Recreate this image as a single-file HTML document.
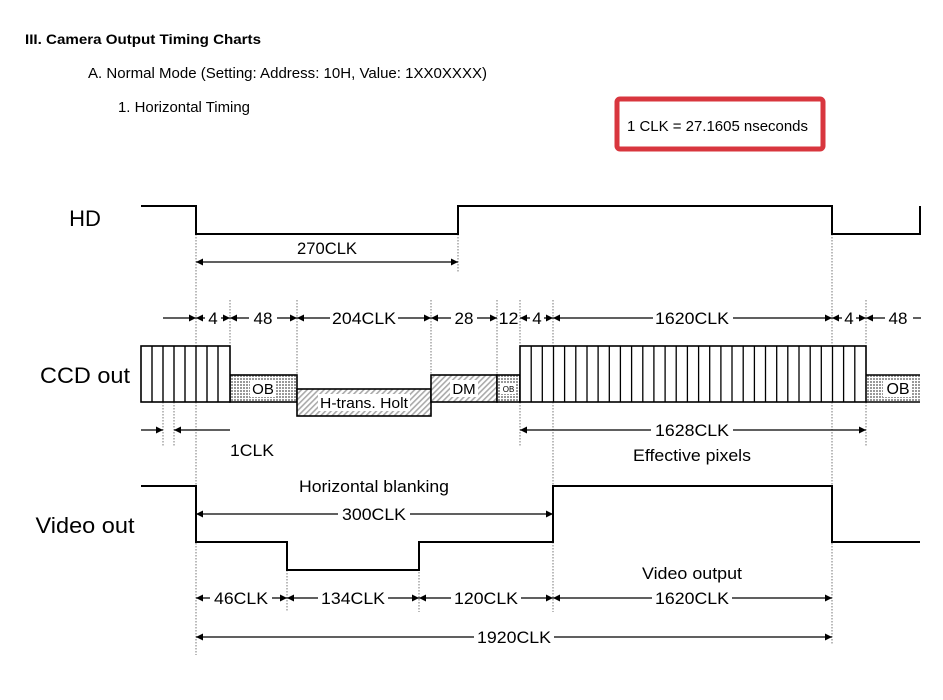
<!DOCTYPE html>
<html><head><meta charset="utf-8"><style>
body{margin:0;background:#fff;}
svg{display:block;font-family:"Liberation Sans",Arial,sans-serif;}
</style></head><body>
<svg width="943" height="700" viewBox="0 0 943 700" xmlns="http://www.w3.org/2000/svg">
<defs>
<marker id="ae" viewBox="0 0 10 10" refX="10" refY="5" markerWidth="9" markerHeight="7" markerUnits="userSpaceOnUse" orient="auto"><path d="M0,0L10,5L0,10z" fill="#000"/></marker>
<marker id="as" viewBox="0 0 10 10" refX="0" refY="5" markerWidth="9" markerHeight="7" markerUnits="userSpaceOnUse" orient="auto"><path d="M10,0L0,5L10,10z" fill="#000"/></marker>
<pattern id="dot" width="3" height="3" patternUnits="userSpaceOnUse"><rect width="3" height="3" fill="#fff"/><rect width="2" height="2" fill="#999"/></pattern>
<pattern id="hat" width="4" height="4" patternUnits="userSpaceOnUse" patternTransform="rotate(45)"><rect width="4" height="4" fill="#fff"/><rect width="1.6" height="4" fill="#aaa"/></pattern>
</defs>
<rect width="943" height="700" fill="#fff"/>
<text x="25" y="44" font-size="14" font-weight="bold" textLength="236" lengthAdjust="spacingAndGlyphs">III. Camera Output Timing Charts</text>
<text x="88" y="78" font-size="15" textLength="399" lengthAdjust="spacingAndGlyphs">A. Normal Mode (Setting: Address: 10H, Value: 1XX0XXXX)</text>
<text x="118" y="112" font-size="15" textLength="132" lengthAdjust="spacingAndGlyphs">1. Horizontal Timing</text>
<rect x="617" y="99" width="206" height="50" rx="3" fill="#fff" stroke="#d8363e" stroke-width="5"/>
<text x="627" y="131" font-size="15" textLength="181" lengthAdjust="spacingAndGlyphs">1 CLK = 27.1605 nseconds</text>

<text x="85" y="226" font-size="22" text-anchor="middle">HD</text>
<text x="85" y="383" font-size="22" text-anchor="middle" textLength="90" lengthAdjust="spacingAndGlyphs">CCD out</text>
<text x="85" y="533" font-size="22" text-anchor="middle" textLength="99" lengthAdjust="spacingAndGlyphs">Video out</text>

<g stroke="#777" stroke-width="1" stroke-dasharray="1.5,1.5" fill="none">
<line x1="196" y1="234" x2="196" y2="655"/>
<line x1="458" y1="234" x2="458" y2="272"/>
<line x1="832" y1="234" x2="832" y2="645"/>
<line x1="230" y1="300" x2="230" y2="346"/>
<line x1="297" y1="300" x2="297" y2="375"/>
<line x1="431" y1="300" x2="431" y2="375"/>
<line x1="497" y1="300" x2="497" y2="375"/>
<line x1="520" y1="300" x2="520" y2="446"/>
<line x1="553" y1="300" x2="553" y2="486"/>
<line x1="866" y1="300" x2="866" y2="446"/>
<line x1="163" y1="402" x2="163" y2="446"/>
<line x1="174" y1="402" x2="174" y2="446"/>
<line x1="287" y1="570" x2="287" y2="612"/>
<line x1="419" y1="542" x2="419" y2="612"/>
<line x1="553" y1="542" x2="553" y2="612"/>
</g>

<g stroke="#000" stroke-width="2" fill="none">
<polyline points="141,206 196,206 196,234 458,234 458,206 832,206 832,234 920,234 920,206"/>
<polyline points="141,486 196,486 196,542 287,542 287,570 419,570 419,542 553,542 553,486 832,486 832,542 920,542"/>
</g>

<g stroke="#000" stroke-width="1.6">
<rect x="230" y="375" width="67" height="27" fill="url(#dot)"/>
<rect x="297" y="389" width="134" height="27" fill="url(#hat)"/>
<rect x="431" y="375" width="66" height="27" fill="url(#hat)"/>
<rect x="497" y="375" width="23" height="27" fill="url(#dot)"/>
<rect x="866" y="375" width="54" height="27" fill="url(#dot)" stroke-width="0"/>
<line x1="866" y1="375" x2="920" y2="375"/>
<line x1="866" y1="402" x2="920" y2="402"/>
<rect x="141" y="346" width="89" height="56" fill="#fff"/>
<rect x="520" y="346" width="346" height="56" fill="#fff"/>
</g>
<g stroke="#000" stroke-width="1.4">
<line x1="152" y1="346" x2="152" y2="402"/><line x1="163" y1="346" x2="163" y2="402"/><line x1="174" y1="346" x2="174" y2="402"/><line x1="185" y1="346" x2="185" y2="402"/><line x1="196" y1="346" x2="196" y2="402"/><line x1="207" y1="346" x2="207" y2="402"/><line x1="218" y1="346" x2="218" y2="402"/>
</g>
<rect x="250" y="380" width="26" height="17" fill="#fff"/>
<text x="263" y="394" font-size="15" text-anchor="middle">OB</text>
<rect x="318" y="394" width="92" height="17" fill="#fff"/>
<text x="364" y="408" font-size="15" text-anchor="middle" textLength="88" lengthAdjust="spacingAndGlyphs">H-trans. Holt</text>
<rect x="450" y="380" width="28" height="17" fill="#fff"/>
<text x="464" y="394" font-size="15" text-anchor="middle">DM</text>
<rect x="501" y="383" width="15" height="11" fill="#fff"/>
<text x="508.5" y="392" font-size="8" text-anchor="middle">OB</text>
<rect x="883" y="380" width="28" height="17" fill="#fff"/>
<text x="898" y="394" font-size="16" text-anchor="middle">OB</text>

<g stroke="#000" stroke-width="1.2" fill="none">
<line x1="196" y1="262" x2="458" y2="262" marker-start="url(#as)" marker-end="url(#ae)"/>
<line x1="163" y1="318" x2="196" y2="318" marker-end="url(#ae)"/>
<line x1="196" y1="318" x2="230" y2="318" marker-start="url(#as)" marker-end="url(#ae)"/>
<line x1="230" y1="318" x2="297" y2="318" marker-start="url(#as)" marker-end="url(#ae)"/>
<line x1="297" y1="318" x2="431" y2="318" marker-start="url(#as)" marker-end="url(#ae)"/>
<line x1="431" y1="318" x2="497" y2="318" marker-start="url(#as)" marker-end="url(#ae)"/>
<line x1="520" y1="318" x2="553" y2="318" marker-start="url(#as)" marker-end="url(#ae)"/>
<line x1="553" y1="318" x2="832" y2="318" marker-start="url(#as)" marker-end="url(#ae)"/>
<line x1="832" y1="318" x2="866" y2="318" marker-start="url(#as)" marker-end="url(#ae)"/>
<line x1="866" y1="318" x2="921" y2="318" marker-start="url(#as)"/>
<line x1="141" y1="430" x2="163" y2="430" marker-end="url(#ae)"/>
<line x1="230" y1="430" x2="174" y2="430" marker-end="url(#ae)"/>
<line x1="520" y1="430" x2="866" y2="430" marker-start="url(#as)" marker-end="url(#ae)"/>
<line x1="196" y1="514" x2="553" y2="514" marker-start="url(#as)" marker-end="url(#ae)"/>
<line x1="196" y1="598" x2="287" y2="598" marker-start="url(#as)" marker-end="url(#ae)"/>
<line x1="287" y1="598" x2="419" y2="598" marker-start="url(#as)" marker-end="url(#ae)"/>
<line x1="419" y1="598" x2="553" y2="598" marker-start="url(#as)" marker-end="url(#ae)"/>
<line x1="553" y1="598" x2="832" y2="598" marker-start="url(#as)" marker-end="url(#ae)"/>
<line x1="196" y1="637" x2="832" y2="637" marker-start="url(#as)" marker-end="url(#ae)"/>
</g>

<g font-size="17" text-anchor="middle" lengthAdjust="spacingAndGlyphs">
<text x="327" y="254" textLength="60" lengthAdjust="spacingAndGlyphs">270CLK</text>
<rect x="205" y="309" width="16" height="18" fill="#fff"/><text x="213" y="324">4</text>
<rect x="249" y="309" width="28" height="18" fill="#fff"/><text x="263" y="324">48</text>
<rect x="330" y="309" width="68" height="18" fill="#fff"/><text x="364" y="324" textLength="64" lengthAdjust="spacingAndGlyphs">204CLK</text>
<rect x="451" y="309" width="26" height="18" fill="#fff"/><text x="464" y="324">28</text>
<text x="508.5" y="324" textLength="20" lengthAdjust="spacingAndGlyphs">12</text>
<rect x="530" y="309" width="14" height="18" fill="#fff"/><text x="537" y="324">4</text>
<rect x="653" y="309" width="80" height="18" fill="#fff"/><text x="692" y="324" textLength="74" lengthAdjust="spacingAndGlyphs">1620CLK</text>
<rect x="842" y="309" width="14" height="18" fill="#fff"/><text x="849" y="324">4</text>
<rect x="885" y="309" width="28" height="18" fill="#fff"/><text x="898" y="324">48</text>
<text x="252" y="456" textLength="44" lengthAdjust="spacingAndGlyphs">1CLK</text>
<rect x="651" y="421" width="82" height="18" fill="#fff"/><text x="692" y="436" textLength="74" lengthAdjust="spacingAndGlyphs">1628CLK</text>
<text x="692" y="461" textLength="118" lengthAdjust="spacingAndGlyphs">Effective pixels</text>
<text x="374" y="492" textLength="150" lengthAdjust="spacingAndGlyphs">Horizontal blanking</text>
<rect x="338" y="505" width="72" height="18" fill="#fff"/><text x="374" y="520" textLength="64" lengthAdjust="spacingAndGlyphs">300CLK</text>
<text x="692" y="579" textLength="100" lengthAdjust="spacingAndGlyphs">Video output</text>
<rect x="210" y="589" width="62" height="18" fill="#fff"/><text x="241" y="604" textLength="54" lengthAdjust="spacingAndGlyphs">46CLK</text>
<rect x="318" y="589" width="70" height="18" fill="#fff"/><text x="353" y="604" textLength="64" lengthAdjust="spacingAndGlyphs">134CLK</text>
<rect x="451" y="589" width="70" height="18" fill="#fff"/><text x="486" y="604" textLength="64" lengthAdjust="spacingAndGlyphs">120CLK</text>
<rect x="652" y="589" width="80" height="18" fill="#fff"/><text x="692" y="604" textLength="74" lengthAdjust="spacingAndGlyphs">1620CLK</text>
<rect x="474" y="628" width="80" height="18" fill="#fff"/><text x="514" y="643" textLength="74" lengthAdjust="spacingAndGlyphs">1920CLK</text>
</g>
<g stroke="#000" stroke-width="1.3">
<line x1="531.2" y1="346" x2="531.2" y2="402"/><line x1="542.3" y1="346" x2="542.3" y2="402"/><line x1="553.5" y1="346" x2="553.5" y2="402"/><line x1="564.6" y1="346" x2="564.6" y2="402"/><line x1="575.8" y1="346" x2="575.8" y2="402"/><line x1="587" y1="346" x2="587" y2="402"/><line x1="598.1" y1="346" x2="598.1" y2="402"/><line x1="609.3" y1="346" x2="609.3" y2="402"/><line x1="620.4" y1="346" x2="620.4" y2="402"/><line x1="631.6" y1="346" x2="631.6" y2="402"/><line x1="642.8" y1="346" x2="642.8" y2="402"/><line x1="653.9" y1="346" x2="653.9" y2="402"/><line x1="665.1" y1="346" x2="665.1" y2="402"/><line x1="676.2" y1="346" x2="676.2" y2="402"/><line x1="687.4" y1="346" x2="687.4" y2="402"/><line x1="698.6" y1="346" x2="698.6" y2="402"/><line x1="709.7" y1="346" x2="709.7" y2="402"/><line x1="720.9" y1="346" x2="720.9" y2="402"/><line x1="732" y1="346" x2="732" y2="402"/><line x1="743.2" y1="346" x2="743.2" y2="402"/><line x1="754.4" y1="346" x2="754.4" y2="402"/><line x1="765.5" y1="346" x2="765.5" y2="402"/><line x1="776.7" y1="346" x2="776.7" y2="402"/><line x1="787.8" y1="346" x2="787.8" y2="402"/><line x1="799" y1="346" x2="799" y2="402"/><line x1="810.2" y1="346" x2="810.2" y2="402"/><line x1="821.3" y1="346" x2="821.3" y2="402"/><line x1="832.5" y1="346" x2="832.5" y2="402"/><line x1="843.6" y1="346" x2="843.6" y2="402"/><line x1="854.8" y1="346" x2="854.8" y2="402"/>
</g>
</svg>
</body></html>
